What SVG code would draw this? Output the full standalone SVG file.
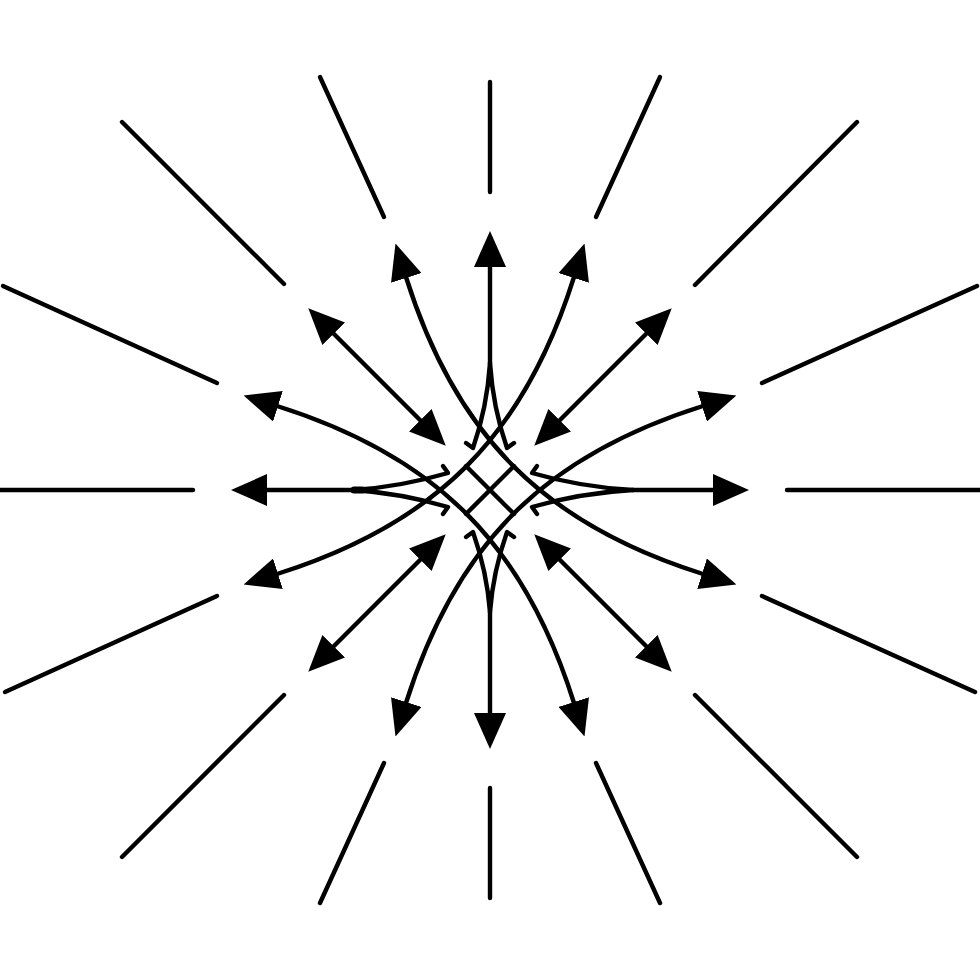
<svg xmlns="http://www.w3.org/2000/svg" width="980" height="980" viewBox="0 0 980 980">
<style>
.ln{stroke:#000;stroke-width:4.4;fill:none;stroke-linecap:round;stroke-linejoin:round}
.a1{marker-start:url(#ah)}
.a2{marker-start:url(#ah);marker-end:url(#ah)}
</style>
<defs>
<marker id="ah" viewBox="0 -16 36 32" markerWidth="36" markerHeight="32" refX="1" refY="0" orient="auto-start-reverse" markerUnits="userSpaceOnUse">
<path d="M0,-16 L36,0 L0,16 Z" fill="#000"/>
</marker>
</defs>
<rect width="980" height="980" fill="#fff"/>
<g id="rays" class="ln">
<line x1="490" y1="82" x2="490" y2="192"/>
<line x1="490" y1="788" x2="490" y2="898"/>
<line x1="0" y1="490" x2="193" y2="490"/>
<line x1="787" y1="490" x2="980" y2="490"/>
<line x1="122" y1="122" x2="284" y2="284"/>
<line x1="857" y1="122" x2="695" y2="285"/>
<line x1="122" y1="857" x2="284" y2="695"/>
<line x1="695" y1="695" x2="857" y2="857"/>
<line x1="320" y1="77" x2="384" y2="217"/>
<line x1="660" y1="77" x2="596" y2="217"/>
<line x1="320" y1="903" x2="384" y2="763"/>
<line x1="660" y1="903" x2="596" y2="763"/>
<line x1="3" y1="286" x2="217" y2="383"/>
<line x1="977" y1="286" x2="762" y2="383"/>
<line x1="5" y1="692" x2="217" y2="596"/>
<line x1="975" y1="692" x2="762" y2="596"/>
</g>
<g id="arrows" class="ln">
<g id="arrow-up">
<path class="a1" d="M490,266 L490,363"/>
<path d="M490,363 Q487,408 473,448 l-7,-5"/>
<path d="M490,363 Q493,408 507,448 l7,-5"/>
</g>
<g id="arrow-right">
<path class="a1" d="M714,490 L633,490"/>
<path d="M633,490 Q580,487 532,473 l5,-7"/>
<path d="M633,490 Q580,493 532,507 l5,7"/>
</g>
<g id="arrow-down">
<path class="a1" d="M490,714 L490,612"/>
<path d="M490,612 Q493,572 507,532 l7,5"/>
<path d="M490,612 Q487,572 473,532 l-7,5"/>
</g>
<g id="arrow-left">
<path class="a1" d="M266,490 L353,490"/>
<path d="M353,490 Q400,487 448,473 l-5,-7"/>
<path d="M353,490 Q400,493 448,507 l-5,7"/>
<line x1="354" y1="490" x2="362" y2="490" stroke-width="7"/>
</g>
<g id="diagonals">
<path class="a2" d="M333,333 L421,421"/>
<path class="a2" d="M647,333 L559,421"/>
<path class="a2" d="M333,647 L421,559"/>
<path class="a2" d="M647,647 L559,559"/>
</g>
<g id="curves">
<path class="a2" d="M406,277 C456,436 544,524 703,574"/>
<path class="a2" d="M574,277 C524,436 436,524 277,574"/>
<path class="a2" d="M406,703 C456,544 544,456 703,406"/>
<path class="a2" d="M574,703 C524,544 436,456 277,406"/>
</g>
<g id="center-cross">
<line x1="466" y1="466" x2="514" y2="514"/>
<line x1="514" y1="466" x2="466" y2="514"/>
</g>
</g>
</svg>
